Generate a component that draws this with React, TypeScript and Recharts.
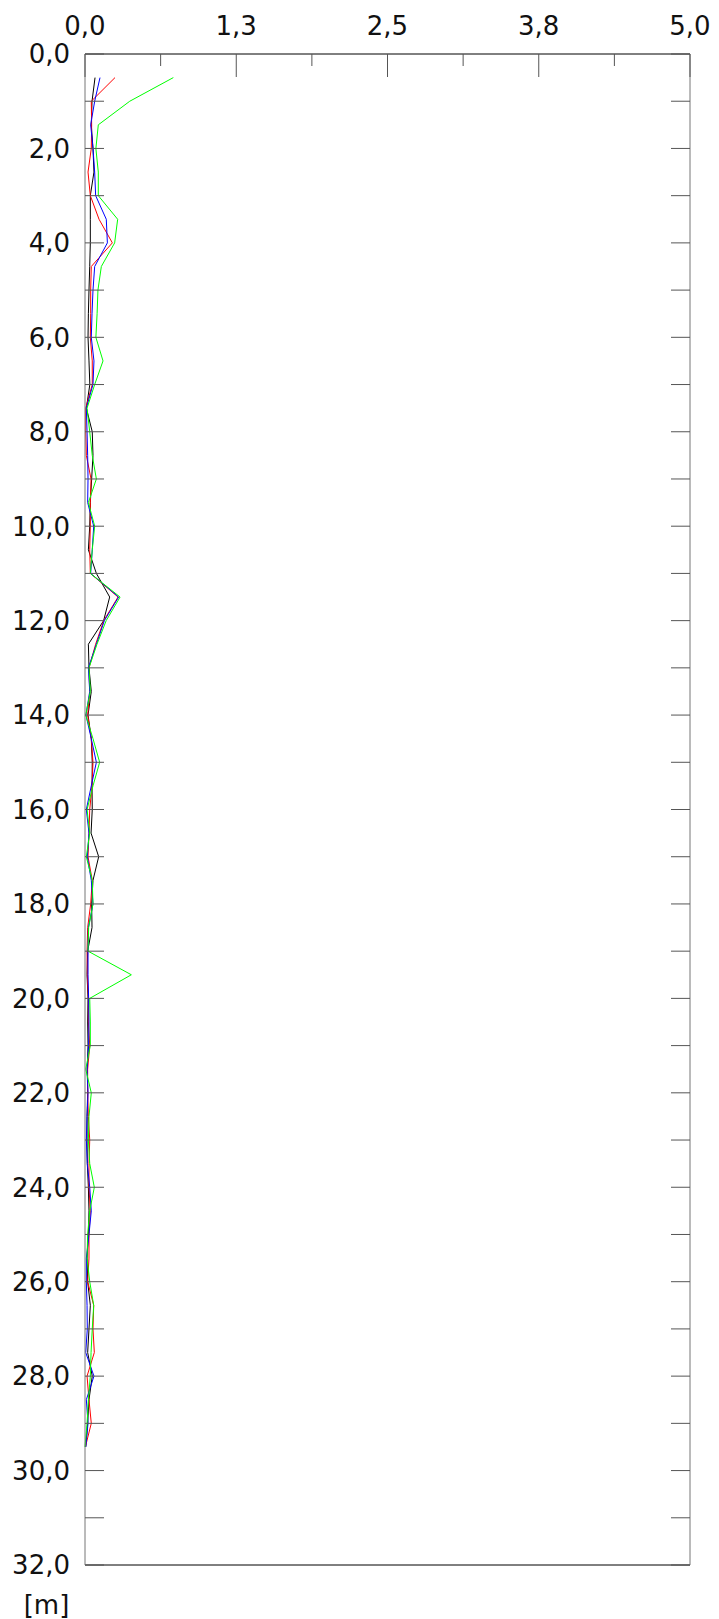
import { LineChart, Line, XAxis, YAxis, Label } from "recharts";

// depth of each reading [m]
const depths = [
  0.5, 1.0, 1.5, 2.0, 2.5, 3.0, 3.5, 4.0, 4.5, 5.0, 5.5, 6.0, 6.5, 7.0, 7.5,
  8.0, 8.5, 9.0, 9.5, 10.0, 10.5, 11.0, 11.5, 12.0, 12.5, 13.0, 13.5, 14.0,
  14.5, 15.0, 15.5, 16.0, 16.5, 17.0, 17.5, 18.0, 18.5, 19.0, 19.5, 20.0,
  20.5, 21.0, 21.5, 22.0, 22.5, 23.0, 23.5, 24.0, 24.5, 25.0, 25.5, 26.0,
  26.5, 27.0, 27.5, 28.0, 28.5, 29.0, 29.5,
];

const greenValues = [
  0.73, 0.37, 0.11, 0.09, 0.11, 0.11, 0.27, 0.245, 0.135, 0.107, 0.1, 0.09,
  0.149, 0.08, 0.017, 0.039, 0.06, 0.094, 0.028, 0.08, 0.06, 0.044, 0.29,
  0.175, 0.099, 0.033, 0.044, 0.006, 0.066, 0.121, 0.066, 0.017, 0.039, 0.011,
  0.06, 0.066, 0.03, 0.025, 0.383, 0.039, 0.044, 0.044, 0.006, 0.052, 0.033,
  0.028, 0.039, 0.077, 0.039, 0.022, 0.017, 0.039, 0.072, 0.06, 0.05, 0.044,
  0.028, 0.017, 0.0,
];

const blueValues = [
  0.124, 0.08, 0.047, 0.066, 0.08, 0.088, 0.176, 0.185, 0.08, 0.066, 0.058,
  0.052, 0.074, 0.066, 0.011, 0.017, 0.022, 0.025, 0.022, 0.072, 0.06, 0.047,
  0.278, 0.16, 0.094, 0.028, 0.039, 0.008, 0.052, 0.094, 0.052, 0.011, 0.033,
  0.019, 0.052, 0.066, 0.028, 0.025, 0.025, 0.03, 0.033, 0.03, 0.017, 0.025,
  0.017, 0.011, 0.019, 0.039, 0.052, 0.033, 0.011, 0.011, 0.017, 0.019, 0.006,
  0.074, 0.011, 0.025, 0.006,
];

const redValues = [
  0.248, 0.052, 0.055, 0.052, 0.025, 0.044, 0.116, 0.226, 0.052, 0.047, 0.047,
  0.044, 0.06, 0.06, 0.006, 0.006, 0.011, 0.05, 0.044, 0.044, 0.039, 0.044,
  0.273, 0.155, 0.088, 0.033, 0.039, 0.022, 0.052, 0.066, 0.058, 0.039, 0.033,
  0.025, 0.06, 0.047, 0.022, 0.017, 0.019, 0.028, 0.028, 0.039, 0.022, 0.022,
  0.028, 0.039, 0.033, 0.033, 0.044, 0.033, 0.033, 0.022, 0.072, 0.066, 0.077,
  0.017, 0.033, 0.052, 0.003,
];

const blackValues = [
  0.083, 0.058, 0.052, 0.066, 0.074, 0.044, 0.044, 0.044, 0.039, 0.033, 0.028,
  0.025, 0.033, 0.04, 0.011, 0.06, 0.066, 0.055, 0.044, 0.039, 0.028, 0.094,
  0.204, 0.154, 0.028, 0.033, 0.052, 0.025, 0.052, 0.06, 0.058, 0.06, 0.05,
  0.113, 0.066, 0.055, 0.058, 0.022, 0.017, 0.025, 0.022, 0.025, 0.019, 0.022,
  0.017, 0.017, 0.019, 0.028, 0.033, 0.028, 0.017, 0.022, 0.044, 0.033, 0.022,
  0.06, 0.033, 0.022, 0.006,
];

// value axis (top / bottom)
const xTicks = [0, 0.625, 1.25, 1.875, 2.5, 3.125, 3.75, 4.375, 5];
const xMajorTicks = [0, 1.25, 2.5, 3.75, 5];
const xTickLabels = ["0,0", "1,3", "2,5", "3,8", "5,0"];

// depth axis (left / right)
const yTicks = [
  0, 1, 2, 3, 4, 5, 6, 7, 8, 9, 10, 11, 12, 13, 14, 15, 16, 17, 18, 19, 20,
  21, 22, 23, 24, 25, 26, 27, 28, 29, 30, 31, 32,
];
const yMajorTicks = [0, 2, 4, 6, 8, 10, 12, 14, 16, 18, 20, 22, 24, 26, 28, 30, 32];
const yTickLabels = [
  "0,0", "2,0", "4,0", "6,0", "8,0", "10,0", "12,0", "14,0", "16,0", "18,0",
  "20,0", "22,0", "24,0", "26,0", "28,0", "30,0", "32,0",
];

const data = depths.map((depth, i) => ({
  depth,
  red: redValues[i],
  green: greenValues[i],
  blue: blueValues[i],
  black: blackValues[i],
}));

const FONT = "'DejaVu Sans', Verdana, sans-serif";
const FONT_SIZE = 26;
const TICK_COLOR = "#555";
const SIDE_COLOR = "#777";

const TOP_GAP = 19;
const LEFT_GAP = 15;
const MAJOR_LEN = 23;
const MINOR_LEN = 12;
const Y_TICK_LEN = 19;

function TopTick(props: any) {
  const { x, y, payload } = props;
  const idx = xMajorTicks.indexOf(payload.value);
  const len = idx >= 0 ? MAJOR_LEN : MINOR_LEN;
  const axisY = y + TOP_GAP;
  return (
    <g>
      <line x1={x} x2={x} y1={axisY} y2={axisY + len} stroke={TICK_COLOR} strokeWidth={1} />
      {idx >= 0 && (
        <text x={x} y={y} textAnchor="middle" fontFamily={FONT} fontSize={FONT_SIZE} fill="#111">
          {xTickLabels[idx]}
        </text>
      )}
    </g>
  );
}

function BottomTick(props: any) {
  const { x, y, payload } = props;
  const len = xMajorTicks.indexOf(payload.value) >= 0 ? MAJOR_LEN : MINOR_LEN;
  return <line x1={x} x2={x} y1={y} y2={y - len} stroke={TICK_COLOR} strokeWidth={1} />;
}

function LeftTick(props: any) {
  const { x, y, payload } = props;
  const idx = yMajorTicks.indexOf(payload.value);
  const axisX = x + LEFT_GAP;
  return (
    <g>
      <line x1={axisX} x2={axisX + Y_TICK_LEN} y1={y} y2={y} stroke={TICK_COLOR} strokeWidth={1} />
      {idx >= 0 && (
        <text x={x} y={y} dy="0.36em" textAnchor="end" fontFamily={FONT} fontSize={FONT_SIZE} fill="#111">
          {yTickLabels[idx]}
        </text>
      )}
    </g>
  );
}

function RightTick(props: any) {
  const { x, y } = props;
  return <line x1={x} x2={x - Y_TICK_LEN} y1={y} y2={y} stroke={TICK_COLOR} strokeWidth={1} />;
}

export default function App() {
  return (
    <div style={{ width: 711, height: 1611 }}>
      <LineChart
        width={711}
        height={1611}
        data={data}
        layout="vertical"
        margin={{ top: 0, right: 28, bottom: 53, left: 0 }}
      >
        <XAxis
          xAxisId="top"
          orientation="top"
          type="number"
          domain={[0, 5]}
          ticks={xTicks}
          interval={0}
          height={46}
          tickSize={0}
          tickMargin={TOP_GAP}
          tickLine={false}
          tick={<TopTick />}
          axisLine={{ stroke: "#000" }}
        />
        <XAxis
          xAxisId="bottom"
          orientation="bottom"
          type="number"
          domain={[0, 5]}
          ticks={xTicks}
          interval={0}
          height={1}
          tickSize={0}
          tickMargin={0}
          tickLine={false}
          tick={<BottomTick />}
          axisLine={{ stroke: "#000" }}
        />
        <YAxis
          yAxisId="left"
          orientation="left"
          type="number"
          dataKey="depth"
          domain={[0, 32]}
          ticks={yTicks}
          interval={0}
          width={77}
          tickSize={0}
          tickMargin={LEFT_GAP}
          tickLine={false}
          tick={<LeftTick />}
          axisLine={{ stroke: SIDE_COLOR }}
        >
          <Label
            value="[m]"
            position="bottom"
            offset={31}
            fontFamily={FONT}
            fontSize={FONT_SIZE}
            fill="#111"
          />
        </YAxis>
        <YAxis
          yAxisId="right"
          orientation="right"
          type="number"
          dataKey="depth"
          domain={[0, 32]}
          ticks={yTicks}
          interval={0}
          width={1}
          tickSize={0}
          tickMargin={0}
          tickLine={false}
          tick={<RightTick />}
          axisLine={{ stroke: SIDE_COLOR }}
        />
        <Line xAxisId="top" yAxisId="left" dataKey="black" stroke="#000000" strokeWidth={1} dot={false} isAnimationActive={false} />
        <Line xAxisId="top" yAxisId="left" dataKey="red" stroke="#ff0000" strokeWidth={1} dot={false} isAnimationActive={false} />
        <Line xAxisId="top" yAxisId="left" dataKey="blue" stroke="#0000ff" strokeWidth={1} dot={false} isAnimationActive={false} />
        <Line xAxisId="top" yAxisId="left" dataKey="green" stroke="#00ff00" strokeWidth={1} dot={false} isAnimationActive={false} />
      </LineChart>
    </div>
  );
}
